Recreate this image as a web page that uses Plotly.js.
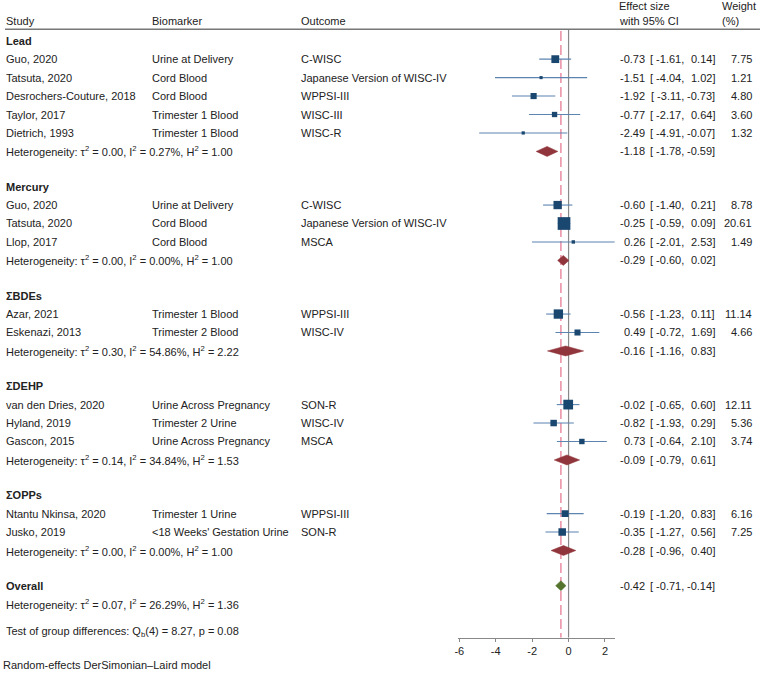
<!DOCTYPE html>
<html>
<head>
<meta charset="utf-8">
<script src="https://cdn.plot.ly/plotly-3.0.1.min.js"></script>
<style>
  body { margin: 0; background: #fff; }
  #forest { width: 764px; height: 673px; }
</style>
</head>
<body>
<div id="forest"></div>
<script>
// studies
const studies = ["Guo, 2020", "Tatsuta, 2020", "Desrochers-Couture, 2018", "Taylor, 2017", "Dietrich, 1993",
    "Guo, 2020", "Tatsuta, 2020", "Llop, 2017",
    "Azar, 2021", "Eskenazi, 2013",
    "van den Dries, 2020", "Hyland, 2019", "Gascon, 2015",
    "Ntantu Nkinsa, 2020", "Jusko, 2019"];
const biomarkers = ["Urine at Delivery", "Cord Blood", "Cord Blood", "Trimester 1 Blood", "Trimester 1 Blood",
    "Urine at Delivery", "Cord Blood", "Cord Blood",
    "Trimester 1 Blood", "Trimester 2 Blood",
    "Urine Across Pregnancy", "Trimester 2 Urine", "Urine Across Pregnancy",
    "Trimester 1 Urine", "<18 Weeks' Gestation Urine"];
const outcomes = ["C-WISC", "Japanese Version of WISC-IV", "WPPSI-III", "WISC-III", "WISC-R",
    "C-WISC", "Japanese Version of WISC-IV", "MSCA",
    "WPPSI-III", "WISC-IV",
    "SON-R", "WISC-IV", "MSCA",
    "WPPSI-III", "SON-R"];
const est = [-0.73, -1.51, -1.92, -0.77, -2.49, -0.60, -0.25, 0.26, -0.56, 0.49, -0.02, -0.82, 0.73, -0.19, -0.35];
const lower = [-1.61, -4.04, -3.11, -2.17, -4.91, -1.40, -0.59, -2.01, -1.23, -0.72, -0.65, -1.93, -0.64, -1.20, -1.27];
const upper = [0.14, 1.02, -0.73, 0.64, -0.07, 0.21, 0.09, 2.53, 0.11, 1.69, 0.60, 0.29, 2.10, 0.83, 0.56];
const weights = [7.75, 1.21, 4.80, 3.60, 1.32, 8.78, 20.61, 1.49, 11.14, 4.66, 12.11, 5.36, 3.74, 6.16, 7.25];
const groupOf = [0, 0, 0, 0, 0, 1, 1, 1, 2, 2, 3, 3, 3, 4, 4];

// subgroups
const groupNames = ["Lead", "Mercury", "ΣBDEs", "ΣDEHP", "ΣOPPs"];
const groupEst = [-1.18, -0.29, -0.16, -0.09, -0.28];
const groupLower = [-1.78, -0.60, -1.16, -0.79, -0.96];
const groupUpper = [-0.59, 0.02, 0.83, 0.61, 0.40];
const groupTau2 = ["0.00", "0.00", "0.30", "0.14", "0.00"];
const groupI2 = ["0.27", "0.00", "54.86", "34.84", "0.00"];
const groupH2 = ["1.00", "1.00", "2.22", "1.53", "1.00"];

// overall
const overallEst = -0.42;
const overallLower = -0.71;
const overallUpper = -0.14;
const overallHet = ["0.07", "26.29", "1.36"];
const groupTest = ["4", "8.27", "0.08"];

const xTicks = [-6, -4, -2, 0, 2];
const xTickText = ["-6", "-4", "-2", "0", "2"];

const W = 764, H = 673;
const FONT = "Liberation Sans, Arial, Helvetica, sans-serif";
const AXIS_Y = 637.7;
const STEP = 18.45;
const GAP = 35.2;

// row layout (y in pixels from top)
const rowY = [];
const groupHeadY = [];
const groupHetY = [];
let y = 40.7;
for (let g = 0; g < groupNames.length; g++) {
    groupHeadY.push(y);
    for (let i = 0; i < studies.length; i++) {
        if (groupOf[i] === g) {
            y += STEP;
            rowY[i] = y;
        }
    }
    y += STEP;
    groupHetY.push(y);
    y += GAP;
}
const overallY = y;

function esc(s) {
    return s.replace(/&/g, "&amp;").replace(/</g, "&lt;").replace(/>/g, "&gt;");
}

function txt(x, ypx, text, extra) {
    return Object.assign({
        xref: "paper", yref: "paper",
        x: x / W, y: 1 - ypx / H,
        text: text, showarrow: false,
        xanchor: "left", yanchor: "middle",
        borderpad: 0,
        font: {family: FONT, size: 11, color: "#222"}
    }, extra || {});
}

function hetText(t, i, h) {
    return "Heterogeneity: τ<sup>2</sup> = " + t + ", I<sup>2</sup> = " + i + "%, H<sup>2</sup> = " + h;
}

function effectCells(ypx, e, lo, up) {
    return [
        txt(646, ypx, e.toFixed(2), {xanchor: "right"}),
        txt(685, ypx, "[ " + lo.toFixed(2) + ",", {xanchor: "right"}),
        txt(715.5, ypx, up.toFixed(2) + "]", {xanchor: "right"})
    ];
}

const annotations = [];
annotations.push(txt(5, 20.7, "Study"));
annotations.push(txt(151, 20.7, "Biomarker"));
annotations.push(txt(300, 20.7, "Outcome"));
annotations.push(txt(618, 6.5, "Effect size"));
annotations.push(txt(618, 20.7, "with 95% CI"));
annotations.push(txt(721, 6.5, "Weight"));
annotations.push(txt(721, 20.7, "(%)"));

for (let g = 0; g < groupNames.length; g++) {
    annotations.push(txt(5, groupHeadY[g], "<b>" + groupNames[g] + "</b>"));
    annotations.push(txt(5, groupHetY[g], hetText(groupTau2[g], groupI2[g], groupH2[g])));
    effectCells(groupHetY[g], groupEst[g], groupLower[g], groupUpper[g]).forEach(a => annotations.push(a));
}
for (let i = 0; i < studies.length; i++) {
    annotations.push(txt(5, rowY[i], esc(studies[i])));
    annotations.push(txt(151, rowY[i], esc(biomarkers[i])));
    annotations.push(txt(300, rowY[i], esc(outcomes[i])));
    effectCells(rowY[i], est[i], lower[i], upper[i]).forEach(a => annotations.push(a));
    annotations.push(txt(753, rowY[i], weights[i].toFixed(2), {xanchor: "right"}));
}
annotations.push(txt(5, overallY, "<b>Overall</b>"));
effectCells(overallY, overallEst, overallLower, overallUpper).forEach(a => annotations.push(a));
annotations.push(txt(5, overallY + STEP, hetText(overallHet[0], overallHet[1], overallHet[2])));
annotations.push(txt(5, overallY + 46, "Test of group differences: Q<sub>b</sub>(" + groupTest[0] + ") = " + groupTest[1] + ", p = " + groupTest[2]));
annotations.push(txt(2, 665, "Random-effects DerSimonian–Laird model"));

// traces
const ciX = [], ciY = [];
for (let i = 0; i < studies.length; i++) {
    ciX.push(lower[i], upper[i], null);
    ciY.push(rowY[i], rowY[i], null);
}
const data = [{
    x: ciX, y: ciY, mode: "lines", type: "scatter",
    line: {color: "#5b84b1", width: 1.1},
    hoverinfo: "skip"
}, {
    x: est, y: rowY, mode: "markers", type: "scatter",
    marker: {symbol: "square", color: "#1a476f", opacity: 1,
        size: weights.map(w => 2.8 * Math.sqrt(w)), line: {width: 0}}
}];

function diamond(e, lo, up, ypx, color) {
    const hh = 5;
    return {
        x: [lo, e, up, e, lo], y: [ypx, ypx - hh, ypx, ypx + hh, ypx],
        mode: "lines", type: "scatter", fill: "toself",
        fillcolor: color, line: {color: color, width: 0.5}, hoverinfo: "skip"
    };
}
for (let g = 0; g < groupNames.length; g++) {
    data.push(diamond(groupEst[g], groupLower[g], groupUpper[g], groupHetY[g], "#90353b"));
}
data.push(diamond(overallEst, overallLower, overallUpper, overallY, "#55752f"));

const shapes = [{
    type: "line", xref: "paper", yref: "paper",
    x0: 5 / W, x1: 760 / W, y0: 1 - 29.3 / H, y1: 1 - 29.3 / H,
    line: {color: "#777", width: 1.5}
}, {
    type: "line", xref: "x", yref: "y", layer: "below",
    x0: 0, x1: 0, y0: 29.3, y1: AXIS_Y,
    line: {color: "#888", width: 1.2}
}, {
    type: "line", xref: "x", yref: "y", layer: "below",
    x0: overallEst, x1: overallEst, y0: 31, y1: AXIS_Y,
    line: {color: "#e5708c", width: 1.2, dash: "10px,4px"}
}];

const layout = {
    width: W, height: H,
    margin: {l: 0, r: 0, t: 0, b: 0},
    paper_bgcolor: "#fff", plot_bgcolor: "rgba(0,0,0,0)",
    showlegend: false,
    xaxis: {
        domain: [457.5 / W, 615 / W],
        range: [-6.1, 2.55],
        tickvals: xTicks,
        ticktext: xTickText,
        ticks: "outside", ticklen: 3, tickcolor: "#888",
        showline: true, linecolor: "#888", linewidth: 1.2,
        showgrid: false, zeroline: false,
        tickfont: {family: FONT, size: 11, color: "#222"}
    },
    yaxis: {
        domain: [1 - AXIS_Y / H, 1],
        range: [AXIS_Y, 0],
        visible: false
    },
    annotations: annotations,
    shapes: shapes
};

const config = {
    displayModeBar: false,
    staticPlot: true
};

Plotly.newPlot("forest", data, layout, config);
</script>
</body>
</html>
